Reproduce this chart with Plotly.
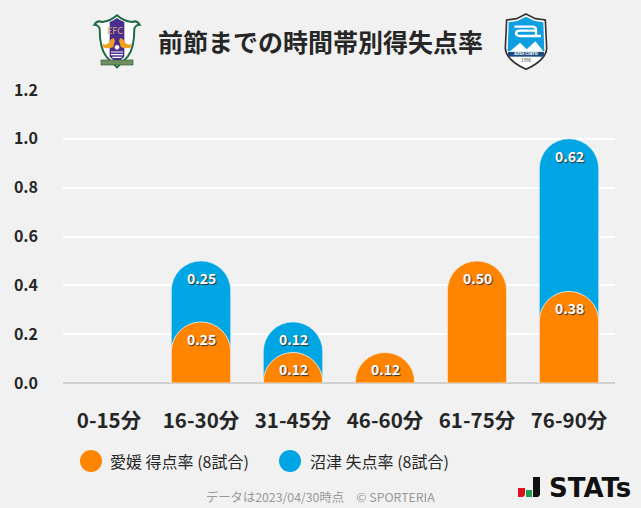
"""Time-band scoring / conceding rate chart, Ehime vs Numazu."""

import base64

import plotly.graph_objects as go

CATEGORIES = ["0-15分", "16-30分", "31-45分", "46-60分", "61-75分", "76-90分"]
EHIME_FOR = [0, 0.25, 0.125, 0.125, 0.5, 0.375]
NUMAZU_AGAINST = [0, 0.25, 0.125, 0, 0, 0.625]
Y_TICKS = [0, 0.2, 0.4, 0.6, 0.8, 1.0, 1.2]

TITLE = "前節までの時間帯別得失点率"
EHIME_NAME = "愛媛 得点率 (8試合)"
NUMAZU_NAME = "沼津 失点率 (8試合)"
FOOTER = "データは2023/04/30時点　© SPORTERIA"

ORANGE = "#ff8500"
BLUE = "#00a5e3"
BG = "#f1f1f1"
INK = "#262626"
CJK = "Noto Sans CJK JP"

W, H = 641, 508
L, R, T, B = 63, 26, 90, 125
PLOT_W, PLOT_H = W - L - R, H - T - B

# crest sketches, drawn in a 180x192 box (3x the pixels they cover)
EHIME_SVG = """<svg xmlns='http://www.w3.org/2000/svg' viewBox='0 0 180 192'>
<path d='M90 16 Q70 34 45 36 Q30 30 22 44 Q34 44 38 56 Q38 115 58 140 L90 172 L122 140 Q142 115 142 56 Q146 44 158 44 Q150 30 135 36 Q110 34 90 16Z' fill='#fff' stroke='#1f6b45' stroke-width='6'/>
<path d='M68 36 Q80 32 90 24 Q100 32 112 36 V140 L90 160 L68 140Z' fill='#4b2c8f'/>
<path d='M46 100 Q60 112 72 88 L80 84 L84 92 L78 112 Q60 118 48 112Z M134 100 Q120 112 108 88 L100 84 L96 92 L102 112 Q120 118 132 112Z' fill='#f0a020'/>
<circle cx='90' cy='112' r='7' fill='#fff'/>
<path d='M72 126 H108 M72 134 H108 M76 142 H104' stroke='#fff' stroke-width='3.5'/>
<rect x='42' y='150' width='96' height='15' fill='#6f8f62' stroke='#2d5a3a' stroke-width='2'/>
</svg>"""

NUMAZU_SVG = """<svg xmlns='http://www.w3.org/2000/svg' viewBox='0 0 180 192'>
<path d='M90 12 L118 26 L148 30 L152 115 Q150 150 90 178 Q30 150 28 115 L32 30 L62 26Z' fill='#fff' stroke='#333' stroke-width='5'/>
<path d='M90 20 L116 33 L142 37 L145 124 L35 124 L38 37 L64 33Z' fill='#0f9fe0'/>
<path d='M42 124 L72 98 L92 118 L118 94 L142 124Z' fill='#fff'/>
<path d='M55 50 H110 Q120 50 120 60 V76 M120 62 H72 Q60 62 60 70 Q60 78 72 78 H135' fill='none' stroke='#fff' stroke-width='7'/>
<rect x='36' y='126' width='108' height='14' fill='#1f4a80'/>
</svg>"""

STATS_SVG = """<svg xmlns='http://www.w3.org/2000/svg' viewBox='0 0 22 20'>
<path d='M0 11 H7 V18 L5 20 H0Z' fill='#e01020'/>
<rect x='8' y='13' width='6' height='7' fill='#1fa050'/>
<path d='M15 0 H22 V18 L20 20 H15Z' fill='#111'/>
</svg>"""


def px_x(x):
    return (x - L) / PLOT_W


def px_y(y):
    return (H - B - y) / PLOT_H


def svg_image(svg, x0, y0, x1, y1):
    uri = "data:image/svg+xml;base64," + base64.b64encode(svg.encode()).decode()
    return dict(
        source=uri, xref="paper", yref="paper", x=px_x(x0), y=px_y(y0),
        sizex=(x1 - x0) / PLOT_W, sizey=(y1 - y0) / PLOT_H,
        xanchor="left", yanchor="top", sizing="stretch", layer="above",
    )


def text_note(text, x, y, size, color=INK, bold=False, anchor="left", family=CJK):
    return dict(
        text=f"<b>{text}</b>" if bold else text,
        xref="paper", yref="paper", x=px_x(x), y=px_y(y),
        xanchor=anchor, yanchor="middle", showarrow=False,
        font=dict(family=family, size=size, color=color),
    )


def legend_dot(color, cx):
    return dict(
        type="circle", xref="paper", yref="paper", line_width=0, fillcolor=color,
        x0=px_x(cx - 11), x1=px_x(cx + 11), y0=px_y(461 + 11), y1=px_y(461 - 11),
    )


totals = [a + b for a, b in zip(EHIME_FOR, NUMAZU_AGAINST)]

fig = go.Figure()
# blue runs from zero so it shows through behind the rounded orange top
fig.add_trace(go.Bar(
    x=CATEGORIES, y=[v or None for v in totals], name=NUMAZU_NAME, width=0.645,
    marker=dict(color=BLUE, cornerradius=30, line=dict(color="#dff2fb", width=0.6)),
))
# orange sits on its own overlaying axis, otherwise plotly only rounds the tallest bar
fig.add_trace(go.Bar(
    x=CATEGORIES, y=[v or None for v in EHIME_FOR], name=EHIME_NAME, width=0.645, yaxis="y2",
    marker=dict(color=ORANGE, cornerradius=30, line=dict(color="#fff3e4", width=0.8)),
))

annotations = [
    text_note(TITLE, 320, 41, 25, bold=True, anchor="center"),
    text_note(EHIME_NAME, 108, 461, 16),
    text_note(NUMAZU_NAME, 308, 461, 16),
    text_note(FOOTER, 320, 497, 12.3, color="#999999", anchor="center"),
    text_note("STATs", 547, 488, 26, color="#111111", bold=True, family="DejaVu Sans"),
    text_note("EFC", 115, 30, 9, color="#d8b36a", anchor="center"),
    text_note("azul claro", 526, 52, 5, color="white", bold=True, anchor="center"),
    text_note("1990", 526, 60, 4.5, color="#333333", anchor="center"),
]

for values, tops in ((NUMAZU_AGAINST, totals), (EHIME_FOR, EHIME_FOR)):
    for cat, val, top in zip(CATEGORIES, values, tops):
        if val:
            annotations.append(dict(
                x=cat, y=top, yshift=-17, text=f"<b>{val:.2f}</b>", showarrow=False,
                font=dict(family=CJK, size=14, color="white", shadow="1px 1px 1px #333333"),
            ))

fig.update_layout(
    width=W,
    height=H,
    barmode="overlay",
    showlegend=False,
    paper_bgcolor=BG,
    plot_bgcolor=BG,
    margin=dict(l=L, r=R, t=T, b=B, pad=0),
    font=dict(family=CJK, color=INK),
    xaxis=dict(
        categoryorder="array", categoryarray=CATEGORIES, showgrid=False,
        tickfont=dict(size=20.5, family=CJK, weight="bold"), ticks="", ticklabelstandoff=23,
        showline=False,
    ),
    yaxis=dict(
        range=[0, 1.2], tickvals=Y_TICKS, tickformat=".1f", gridcolor="white", gridwidth=2,
        zeroline=True, zerolinecolor="#d0d0d0", zerolinewidth=2,
        tickfont=dict(size=16, family=CJK, weight="bold"), ticklabelstandoff=24, ticks="",
    ),
    yaxis2=dict(
        range=[0, 1.2], overlaying="y", side="left", visible=False, showgrid=False, zeroline=False,
    ),
    annotations=annotations,
    shapes=[legend_dot(ORANGE, 91), legend_dot(BLUE, 290)],
    images=[
        svg_image(EHIME_SVG, 87, 10, 147, 74),
        svg_image(NUMAZU_SVG, 496, 10, 556, 74),
        svg_image(STATS_SVG, 518, 477, 540, 497),
    ],
)

fig.write_html(
    "out.html",
    config={"displayModeBar": False},
    post_script="document.body.style.margin='0';document.body.style.overflow='hidden';",
)
